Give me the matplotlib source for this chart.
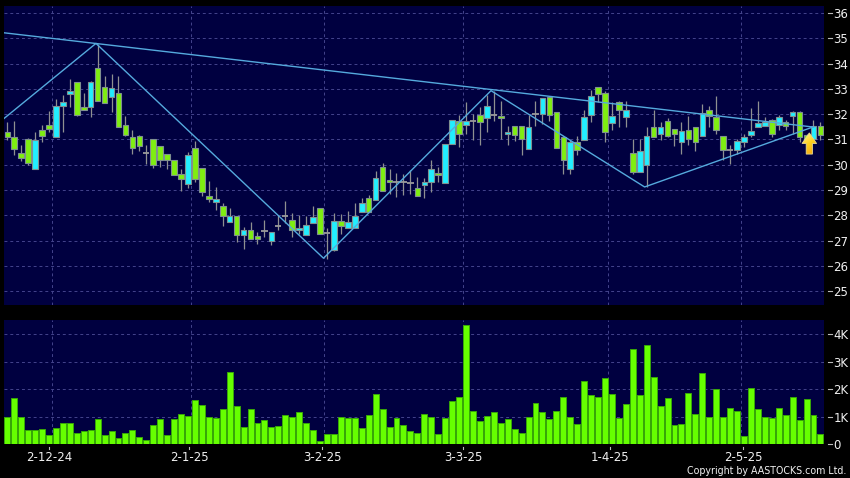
import numpy as np
import matplotlib
matplotlib.use('Agg')
import matplotlib.pyplot as plt
from matplotlib.patches import Polygon

#%% data
opens = [31.31,31.10,30.48,31.02,29.84,31.39,31.59,31.10,32.32,32.80,
         33.27,32.30,32.30,33.84,33.08,32.69,32.85,31.59,31.10,31.15,
         30.45,31.03,30.74,30.44,30.19,29.65,29.25,30.68,29.88,28.78,
         28.53,28.37,27.75,27.97,27.23,27.40,27.18,27.38,26.99,27.59,
         27.97,27.83,27.43,27.23,27.71,28.30,27.31,26.61,27.77,27.49,
         27.49,28.13,28.69,28.59,29.92,29.40,29.32,29.31,29.28,29.06,
         29.21,29.32,29.67,29.28,30.83,31.72,31.58,31.72,31.97,31.86,
         31.96,31.93,31.22,31.53,31.53,30.63,31.99,31.99,32.67,32.07,
         31.09,29.84,30.89,30.99,31.97,33.07,32.83,31.64,32.47,31.88,
         30.47,29.72,30.00,31.49,31.20,31.72,31.41,30.91,31.36,31.49,
         31.13,32.17,31.89,31.14,30.57,30.59,30.91,31.18,31.50,31.55,
         31.75,31.58,31.68,31.91,32.09,31.16,31.03,31.55]
closes = [31.10,30.64,30.28,30.08,30.99,31.14,31.41,32.34,32.50,32.93,
          31.98,32.17,33.27,32.54,32.46,33.05,31.49,31.18,30.68,30.74,
          30.45,30.00,30.20,30.20,29.61,29.45,30.40,29.45,28.93,28.64,
          28.66,27.97,27.97,27.23,27.42,27.07,27.07,27.38,27.35,27.59,
          27.97,27.43,27.49,27.63,27.93,27.27,27.31,27.77,27.57,27.73,
          27.97,28.49,28.13,29.49,28.98,29.32,29.32,29.31,29.28,28.76,
          29.32,29.83,29.61,30.82,31.76,31.22,31.72,31.72,31.68,32.32,
          31.96,31.86,31.29,31.18,31.03,31.50,31.99,32.64,31.95,30.67,
          30.20,30.89,30.59,31.88,32.71,32.80,31.29,31.92,32.17,32.16,
          29.72,30.54,31.13,31.09,31.49,31.13,31.20,31.32,31.03,30.91,
          32.04,31.93,31.36,30.59,30.57,30.93,31.09,31.34,31.67,31.68,
          31.20,31.88,31.55,32.08,31.09,30.89,31.55,31.16]
highs = [31.69,31.72,30.79,31.07,31.31,31.56,32.11,32.61,32.75,33.41,
         33.27,32.85,33.31,34.79,33.50,33.58,33.50,31.92,31.36,31.16,
         30.79,31.03,30.74,30.44,30.19,29.84,30.49,30.93,29.88,29.34,
         29.12,28.50,28.30,27.97,27.53,27.75,27.33,27.80,27.35,28.02,
         28.55,28.09,28.00,27.96,28.35,28.30,27.50,28.09,28.04,28.16,
         28.49,28.70,28.79,29.74,30.05,29.82,29.68,29.62,29.78,29.52,
         29.48,30.20,29.90,30.82,31.76,31.95,32.47,32.00,32.30,32.74,
         32.93,32.54,31.55,31.53,31.53,31.95,32.51,32.64,32.67,32.07,
         31.14,30.99,31.12,32.17,32.97,33.07,32.93,32.47,32.54,32.51,
         31.00,31.00,31.51,32.17,31.71,31.84,31.41,31.68,31.91,31.49,
         32.41,32.34,32.70,31.14,30.80,31.00,31.22,32.25,32.54,31.88,
         31.82,31.95,31.75,32.12,32.14,31.20,31.75,31.68]
lows = [30.97,30.40,30.15,29.98,29.84,30.90,31.30,31.10,31.30,32.28,
        31.93,32.15,31.89,32.54,32.46,32.09,31.49,31.14,30.41,30.54,
        30.02,29.88,29.91,29.84,29.61,28.95,29.09,29.32,28.76,28.53,
        28.20,27.56,27.75,26.94,26.65,27.07,26.85,27.16,26.81,27.40,
        27.70,27.16,27.27,27.23,27.71,27.27,26.28,26.58,27.27,27.49,
        27.49,28.13,28.13,28.59,28.96,28.83,28.72,28.79,28.86,28.76,
        28.69,28.92,29.32,29.28,30.83,30.72,31.22,30.99,30.80,31.29,
        31.72,31.00,30.80,30.92,30.37,30.63,31.55,31.62,31.72,30.67,
        29.64,29.62,30.37,30.99,31.68,32.47,30.89,31.36,31.51,31.51,
        29.62,29.72,29.12,31.09,30.99,31.09,30.76,30.41,30.80,30.53,
        31.13,31.51,31.22,30.17,30.04,30.43,30.72,31.09,31.49,31.55,
        31.09,31.38,31.36,31.22,30.89,30.85,30.90,30.99]
volumes = [0.98,1.66,0.98,0.50,0.52,0.54,0.33,0.60,0.76,0.77,
           0.39,0.49,0.52,0.90,0.32,0.48,0.22,0.40,0.50,0.26,
           0.13,0.68,0.90,0.32,0.90,1.11,1.02,1.62,1.41,0.99,
           0.95,1.27,2.62,1.38,0.63,1.26,0.77,0.87,0.62,0.66,
           1.07,0.99,1.15,0.77,0.51,0.11,0.35,0.38,1.00,0.94,
           0.93,0.59,1.05,1.82,1.29,0.61,0.95,0.68,0.46,0.40,
           1.09,0.98,0.35,0.96,1.56,1.73,4.34,1.22,0.83,1.01,
           1.15,0.77,0.91,0.54,0.41,0.99,1.48,1.15,0.90,1.22,
           1.73,1.00,0.72,2.29,1.79,1.71,2.39,1.84,0.95,1.45,
           3.46,1.78,3.61,2.45,1.39,1.66,0.68,0.74,1.87,1.11,
           2.59,0.99,2.02,0.98,1.33,1.20,0.30,2.04,1.29,0.99,
           0.95,1.30,1.06,1.70,0.89,1.63,1.04,0.37]

zigzag_x = [-0.47, 12.76, 45.5, 69.6, 91.7, 116.0]
zigzag_y = [31.83, 34.80, 26.30, 32.93, 29.12, 31.50]
resist_x = [-0.47, 116.0]
resist_y = [35.22, 31.49]

price_ticks = list(range(25, 37))
vol_ticks = [0, 1, 2, 3, 4]
vol_labels = ['0', '1K', '2K', '3K', '4K']
date_pos = [6.0, 26.2, 45.3, 65.6, 86.7, 105.9]
date_labels = ['2-12-24', '2-1-25', '3-2-25', '3-3-25', '1-4-25', '2-5-25']
grid_pos = [6.5, 26.5, 45.5, 65.5, 86.5, 105.5]

BG = '#000040'
GRID = '#44448c'
UP = '#22eeff'
DOWN = '#7fee11'
EDGE = '#7f9090'
LINE = '#55aadd'
TXT = '#f0f0f0'

W, H = 850, 478

plt.rcParams['font.family'] = 'DejaVu Sans'
fig = plt.figure(figsize=(8.5, 4.78), dpi=100, facecolor='black')
ax = fig.add_axes([4/W, 1 - 305/H, 819.5/W, 299/H], facecolor=BG)
ax2 = fig.add_axes([4/W, 1 - 444/H, 819.5/W, 124/H], facecolor=BG)

x = np.arange(len(opens))
o = np.array(opens)
c = np.array(closes)

#%% candles
is_doji = o == c
is_up = (c > o) & ~is_doji
is_dn = (c < o) & ~is_doji
ax.vlines(x, lows, highs, color='#8f9090', lw=0.9, zorder=2)
ax.bar(x[is_up], (c - o)[is_up], 0.8, bottom=o[is_up], color=UP,
       edgecolor=EDGE, linewidth=0.8, zorder=3)
ax.bar(x[is_dn], (c - o)[is_dn], 0.8, bottom=o[is_dn], color=DOWN,
       edgecolor=EDGE, linewidth=0.8, zorder=3)
ax.hlines(o[is_doji], x[is_doji] - 0.45, x[is_doji] + 0.45, color='#9a9a9a', lw=1.3, zorder=3)

ax.plot(zigzag_x, zigzag_y, color=LINE, lw=1.0, zorder=4)
ax.plot(resist_x, resist_y, color=LINE, lw=1.0, zorder=4)

#%% arrow at the last signal
ax.set_xlim(-0.475, 117.44)
ax.set_ylim(24.45, 36.28)
ax_x, tip, tail = 115.4, 31.26, 30.42
arrow = Polygon([(ax_x, tip), (ax_x + 1.05, tip - 0.42), (ax_x + 0.45, tip - 0.42),
                 (ax_x + 0.45, tail), (ax_x - 0.45, tail), (ax_x - 0.45, tip - 0.42),
                 (ax_x - 1.05, tip - 0.42)], closed=True, transform=ax.transData,
                facecolor='none', edgecolor='#e8d890', lw=0.6, zorder=6)
ax.add_patch(arrow)
grad = np.linspace(0, 1, 30).reshape(-1, 1) * np.ones((30, 12))
grad = grad + np.linspace(-0.25, 0.25, 12)
cmap = matplotlib.colors.LinearSegmentedColormap.from_list('arrow', ['#fff4a0', '#ffd21e', '#f0a010'])
img = ax.imshow(grad, extent=(ax_x - 1.05, ax_x + 1.05, tail, tip), origin='upper', cmap=cmap,
                aspect='auto', zorder=5)
img.set_clip_path(arrow)
ax.set_xlim(-0.475, 117.44)
ax.set_ylim(24.45, 36.28)

#%% volume
ax2.bar(x, volumes, 0.86, color='#66ff00', edgecolor='#38a808', linewidth=0.7, zorder=3)
ax2.set_xlim(-0.475, 117.44)
ax2.set_ylim(0, 4.52)

#%% axes dressing
for a, yt in ((ax, price_ticks), (ax2, vol_ticks)):
    for s in a.spines.values():
        s.set_visible(False)
    a.set_axisbelow(False)
    a.yaxis.tick_right()
    a.set_yticks(yt)
    a.tick_params(axis='y', length=0, pad=7, labelcolor=TXT, labelsize=8.5)
    a.set_xticks([])
    for v in yt:
        if v > 0:
            a.axhline(v, color=GRID, lw=0.7, ls=(0, (3, 3)), zorder=1)
        a.plot([1.0061, 1.0098], [v, v], color='#bbbbbb', lw=0.8,
               transform=a.get_yaxis_transform(), clip_on=False)
    for g in grid_pos:
        a.axvline(g, color=GRID, lw=0.7, ls=(0, (3, 3)), zorder=1)

ax.set_yticklabels([str(v) for v in price_ticks])
ax2.set_yticklabels(vol_labels)

ax2.set_xticks(date_pos)
ax2.set_xticklabels(date_labels)
ax2.tick_params(axis='x', length=0, pad=5, labelcolor=TXT, labelsize=8.5)
for d in date_pos:
    ax2.plot([d, d], [-0.022, -0.042], color='#bbbbbb', lw=0.8,
             transform=ax2.get_xaxis_transform(), clip_on=False)

fig.text(846/W, 1 - 471/H, 'Copyright by AASTOCKS.com Ltd.', color=TXT, fontsize=6.85,
         ha='right', va='center')

fig.savefig('out.png', dpi=100, facecolor='black')
